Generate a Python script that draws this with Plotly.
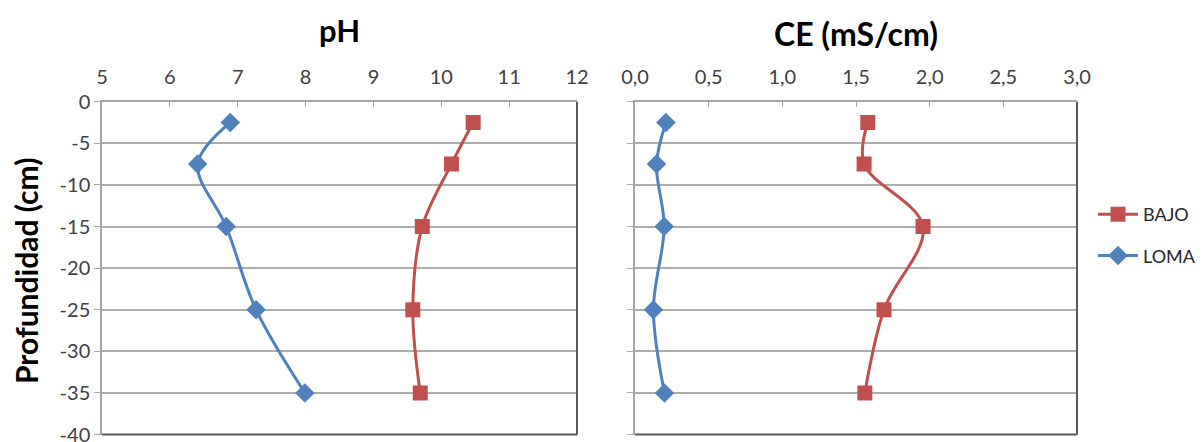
import plotly.graph_objects as go

# ---- data ----
depth = [-2.5, -7.5, -15, -25, -35]
ph_bajo = [10.47, 10.15, 9.72, 9.58, 9.69]
ph_loma = [6.89, 6.41, 6.83, 7.27, 7.99]
ce_bajo = [1.58, 1.555, 1.955, 1.69, 1.56]
ce_loma = [0.21, 0.146, 0.198, 0.125, 0.20]

y_tickvals = [0, -5, -10, -15, -20, -25, -30, -35, -40]
y_ticktext = ["0", "-5", "-10", "-15", "-20", "-25", "-30", "-35", "-40"]
ph_ticks = [5, 6, 7, 8, 9, 10, 11, 12]
ce_ticks = [0.0, 0.5, 1.0, 1.5, 2.0, 2.5, 3.0]
ce_ticktext = ["0,0", "0,5", "1,0", "1,5", "2,0", "2,5", "3,0"]

RED = "#C0504D"
BLUE = "#4F81BD"
FONT = "Lato"
TICKCOL = "#404040"

# page body has an 8px margin: figure sized/positioned to compensate
OFF = 8
FW, FH = 1204 - OFF, 442 - OFF


def fx(px):
    return (px - OFF) / FW


def fy(py):
    return 1 - (py - OFF) / FH


fig = go.Figure()

fig.add_trace(go.Scatter(x=ph_bajo, y=depth, name="BAJO", mode="lines+markers",
                         line=dict(color=RED, width=3, shape="spline", smoothing=1),
                         marker=dict(symbol="square", size=15, color=RED),
                         xaxis="x", yaxis="y", legendgroup="b"))
fig.add_trace(go.Scatter(x=ph_loma, y=depth, name="LOMA", mode="lines+markers",
                         line=dict(color=BLUE, width=3, shape="spline", smoothing=1),
                         marker=dict(symbol="diamond", size=15, color=BLUE),
                         xaxis="x", yaxis="y", legendgroup="l"))
fig.add_trace(go.Scatter(x=ce_bajo, y=depth, name="BAJO", mode="lines+markers",
                         line=dict(color=RED, width=3, shape="spline", smoothing=1),
                         marker=dict(symbol="square", size=15, color=RED),
                         xaxis="x2", yaxis="y2", showlegend=False, legendgroup="b"))
fig.add_trace(go.Scatter(x=ce_loma, y=depth, name="LOMA", mode="lines+markers",
                         line=dict(color=BLUE, width=3, shape="spline", smoothing=1),
                         marker=dict(symbol="diamond", size=15, color=BLUE),
                         xaxis="x2", yaxis="y2", showlegend=False, legendgroup="l"))

ydom = [fy(434.5), fy(101.7)]
xdom1 = [fx(102), fx(577)]
xdom2 = [fx(635), fx(1077)]

common_x = dict(side="top", showline=True, linecolor="#A6A6A6", linewidth=1.5,
                ticks="inside", ticklen=6, tickcolor="#A6A6A6", showgrid=False,
                zeroline=False, automargin=False, ticklabelstandoff=8,
                tickfont=dict(family=FONT, size=20, color=TICKCOL))
common_y = dict(range=[-40, 0], tickvals=y_tickvals, showline=True, linecolor="#A6A6A6",
                linewidth=1.5, ticks="outside", ticklen=6, tickcolor="#A6A6A6",
                showgrid=True, gridcolor="#ADADAD", gridwidth=1.5, zeroline=False,
                automargin=False, domain=ydom, ticklabeloverflow="allow",
                tickfont=dict(family=FONT, size=20, color=TICKCOL))

fig.update_layout(
    width=FW, height=FH,
    margin=dict(l=0, r=0, t=0, b=0, autoexpand=False),
    paper_bgcolor="white", plot_bgcolor="white",
    separators=",.",
    xaxis=dict(domain=xdom1, range=[5, 12], tickvals=ph_ticks, anchor="y", **common_x),
    yaxis=dict(anchor="x", ticktext=y_ticktext, **common_y),
    xaxis2=dict(domain=xdom2, range=[0, 3], tickvals=ce_ticks, ticktext=ce_ticktext,
                anchor="y2", **common_x),
    yaxis2=dict(anchor="x2", showticklabels=False, **common_y),
    showlegend=True,
    legend=dict(x=fx(1093), y=fy(196), xanchor="left", yanchor="top",
                font=dict(family=FONT, size=18, color="#262626"),
                tracegroupgap=15, bgcolor="rgba(0,0,0,0)", itemwidth=40),
    annotations=[
        dict(text="<b>pH</b>", x=sum(xdom1) / 2, y=fy(30), xref="paper", yref="paper",
             xanchor="center", yanchor="middle", showarrow=False,
             font=dict(family=FONT, size=31, color="black")),
        dict(text="<b>CE (mS/cm)</b>", x=sum(xdom2) / 2, y=fy(34), xref="paper",
             yref="paper", xanchor="center", yanchor="middle", showarrow=False,
             font=dict(family=FONT, size=32, color="black")),
        dict(text="<b>Profundidad (cm)</b>", x=fx(26), y=fy(271), xref="paper",
             yref="paper", xanchor="center", yanchor="middle", showarrow=False,
             textangle=-90, font=dict(family=FONT, size=30, color="black")),
    ],
    shapes=[
        dict(type="line", xref="x domain", yref="y domain", x0=1, x1=1, y0=0, y1=1,
             line=dict(color="#595959", width=2)),
        dict(type="line", xref="x domain", yref="y domain", x0=0, x1=1, y0=0, y1=0,
             line=dict(color="#595959", width=2)),
        dict(type="line", xref="x2 domain", yref="y2 domain", x0=1, x1=1, y0=0, y1=1,
             line=dict(color="#595959", width=2)),
        dict(type="line", xref="x2 domain", yref="y2 domain", x0=0, x1=1, y0=0, y1=0,
             line=dict(color="#595959", width=2)),
    ],
)

fig.write_html("out.html")
